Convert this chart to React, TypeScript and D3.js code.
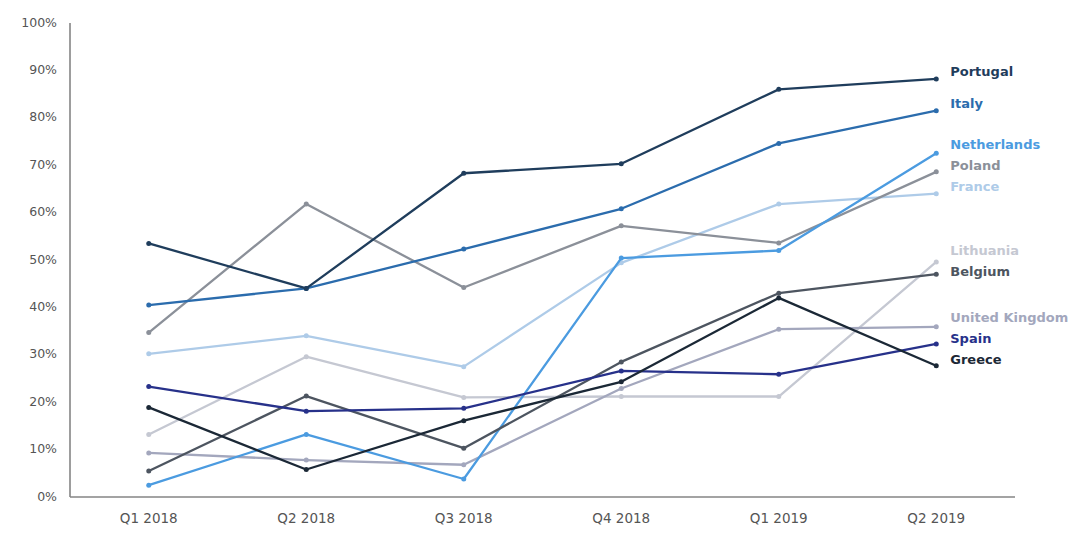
import React from "react";
import * as d3 from "d3";

const quarters = ["Q1 2018", "Q2 2018", "Q3 2018", "Q4 2018", "Q1 2019", "Q2 2019"];
const yTicks = [0, 10, 20, 30, 40, 50, 60, 70, 80, 90, 100];

const portugal = [53.5, 44.0, 68.3, 70.3, 86.0, 88.2];
const italy = [40.5, 44.0, 52.3, 60.8, 74.6, 81.5];
const netherlands = [2.5, 13.2, 3.8, 50.4, 52.0, 72.5];
const poland = [34.7, 61.8, 44.2, 57.2, 53.6, 68.6];
const france = [30.2, 34.0, 27.5, 49.4, 61.8, 64.0];
const lithuania = [13.2, 29.6, 21.0, 21.2, 21.2, 49.6];
const belgium = [5.5, 21.3, 10.3, 28.5, 43.0, 47.0];
const unitedKingdom = [9.3, 7.8, 6.8, 22.9, 35.4, 35.9];
const spain = [23.3, 18.1, 18.7, 26.6, 25.9, 32.3];
const greece = [18.9, 5.8, 16.1, 24.3, 42.0, 27.7];

const seriesNames = [
  "Portugal", "Italy", "Netherlands", "Poland", "France",
  "Lithuania", "Belgium", "United Kingdom", "Spain", "Greece",
];
const seriesValues = [
  portugal, italy, netherlands, poland, france,
  lithuania, belgium, unitedKingdom, spain, greece,
];
const seriesColors = [
  "#1f3d5c", "#2b6cad", "#4b9be0", "#8b9099", "#aecbe8",
  "#c5c8d2", "#4d5560", "#a3a7bd", "#27318a", "#1b2836",
];

const W = 1076;
const H = 537;
const plotLeft = 70;
const plotRight = 1015;
const plotTop = 23;
const plotBottom = 497;

export default function App() {
  const x = d3.scalePoint<string>().domain(quarters).range([plotLeft, plotRight]).padding(0.5);
  const y = d3.scaleLinear().domain([0, 100]).range([plotBottom, plotTop]);
  const line = d3
    .line<number>()
    .x((_, i) => x(quarters[i]) as number)
    .y((d) => y(d));

  // label placement: start near the end value, then relax overlaps
  const order = seriesValues
    .map((v, i) => ({ i, y: y(v[v.length - 1]) - 6 }))
    .sort((a, b) => a.y - b.y);
  const gap = 21;
  for (let iter = 0; iter < 50; iter++) {
    for (let k = 1; k < order.length; k++) {
      const d = order[k].y - order[k - 1].y;
      if (d < gap) {
        const push = (gap - d) / 2;
        order[k - 1].y -= push;
        order[k].y += push;
      }
    }
  }
  const labelY: number[] = [];
  order.forEach((o) => (labelY[o.i] = o.y));

  const lastX = x(quarters[quarters.length - 1]) as number;
  const drawOrder = [5, 4, 7, 3, 2, 6, 1, 8, 9, 0];

  return (
    <svg
      width={W}
      height={H}
      style={{ position: "absolute", left: 0, top: 0, background: "#fff" }}
      fontFamily="'DejaVu Sans', Verdana, sans-serif"
    >
      <rect x={0} y={0} width={W} height={H} fill="#fff" />
      <line x1={plotLeft} x2={plotLeft} y1={plotTop} y2={plotBottom} stroke="#858585" strokeWidth={1.6} />
      <line x1={plotLeft} x2={plotRight} y1={plotBottom} y2={plotBottom} stroke="#858585" strokeWidth={1.6} />
      {yTicks.map((t) => (
        <text
          key={t}
          x={57}
          y={y(t)}
          textAnchor="end"
          dominantBaseline="middle"
          fontSize={12.5}
          fill="#555"
        >
          {t + "%"}
        </text>
      ))}
      {quarters.map((q) => (
        <text
          key={q}
          x={x(q) as number}
          y={519}
          textAnchor="middle"
          dominantBaseline="middle"
          fontSize={13.5}
          fill="#555"
        >
          {q}
        </text>
      ))}
      {drawOrder.map((i) => (
        <g key={seriesNames[i]}>
          <path
            d={line(seriesValues[i]) || ""}
            fill="none"
            stroke={seriesColors[i]}
            strokeWidth={2.3}
            strokeLinejoin="round"
          />
          {seriesValues[i].map((v, j) => (
            <circle key={j} cx={x(quarters[j]) as number} cy={y(v)} r={2.5} fill={seriesColors[i]} />
          ))}
        </g>
      ))}
      {seriesNames.map((n, i) => (
        <text
          key={n}
          x={lastX + 14}
          y={labelY[i]}
          dominantBaseline="middle"
          fontSize={13}
          fontWeight="bold"
          fill={seriesColors[i]}
        >
          {n}
        </text>
      ))}
    </svg>
  );
}
